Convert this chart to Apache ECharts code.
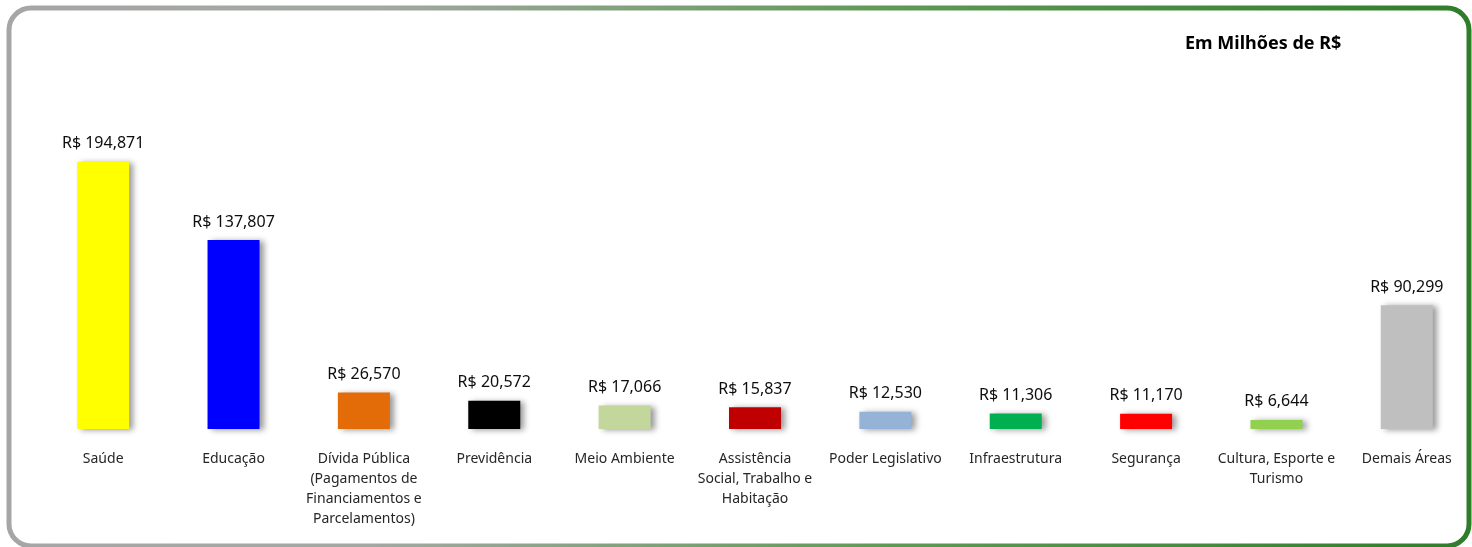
<!DOCTYPE html>
<html>
<head>
<meta charset="utf-8">
<script src="https://cdn.jsdelivr.net/npm/echarts@6/dist/echarts.min.js"></script>
<style>
  html, body { margin: 0; padding: 0; background: #fff; }
  #chart { width: 1472px; height: 547px; }
</style>
</head>
<body>
<div id="chart"></div>
<script>
// dados (em milhões de R$)
var categorias = [
  'Saúde',
  'Educação',
  'Dívida Pública\n(Pagamentos de\nFinanciamentos e\nParcelamentos)',
  'Previdência',
  'Meio Ambiente',
  'Assistência\nSocial, Trabalho e\nHabitação',
  'Poder Legislativo',
  'Infraestrutura',
  'Segurança',
  'Cultura, Esporte e\nTurismo',
  'Demais Áreas'
];
var valores = [194871, 137807, 26570, 20572, 17066, 15837, 12530, 11306, 11170, 6644, 90299];
var cores = ['#ffff00', '#0000ff', '#e36c09', '#000000', '#c3d69b', '#c00000',
             '#95b3d7', '#00b050', '#ff0000', '#92d050', '#bfbfbf'];
var titulo = 'Em Milhões de R$';

var fonte = '"Noto Sans", "Open Sans", sans-serif';

var myChart = echarts.init(document.getElementById('chart'));
var option = {
  animation: false,
  backgroundColor: '#ffffff',
  title: {
    text: titulo,
    left: 1180,
    top: 30,
    textStyle: {
      fontFamily: fonte,
      fontSize: 18,
      fontWeight: 'bold',
      color: '#000'
    }
  },
  graphic: [
    {
      type: 'rect',
      shape: { x: 9, y: 8, width: 1460, height: 538, r: 22 },
      style: {
        fill: 'none',
        lineWidth: 5,
        stroke: {
          type: 'linear', x: 0, y: 0, x2: 1, y2: 0,
          colorStops: [
            { offset: 0, color: '#a6a6a6' },
            { offset: 0.25, color: '#a3a8a2' },
            { offset: 0.6, color: '#5f9a55' },
            { offset: 1, color: '#2f7d2a' }
          ]
        }
      },
      z: 10
    }
  ],
  grid: { left: 38, width: 1435, top: 100, bottom: 118 },
  xAxis: {
    type: 'category',
    data: categorias,
    axisLine: { show: false },
    axisTick: { show: false },
    axisLabel: {
      interval: 0,
      margin: 20,
      fontFamily: fonte,
      fontSize: 14,
      lineHeight: 20,
      color: '#262626'
    }
  },
  yAxis: {
    type: 'value',
    min: 0,
    max: 240000,
    show: false,
    splitLine: { show: false }
  },
  series: [
    {
      type: 'bar',
      barWidth: 52,
      data: valores.map(function (v, i) {
        return { value: v, itemStyle: { color: cores[i] } };
      }),
      itemStyle: {
        shadowColor: 'rgba(0,0,0,0.4)',
        shadowBlur: 6,
        shadowOffsetX: 4,
        shadowOffsetY: 1
      },
      label: {
        show: true,
        position: 'top',
        distance: 10,
        fontFamily: fonte,
        fontSize: 16,
        color: '#0d0d0d',
        formatter: function (p) {
          return 'R$ ' + p.value.toLocaleString('en-US');
        }
      }
    }
  ]
};
myChart.setOption(option);
window.addEventListener('resize', function () {
  myChart.resize();
});
</script>
</body>
</html>
